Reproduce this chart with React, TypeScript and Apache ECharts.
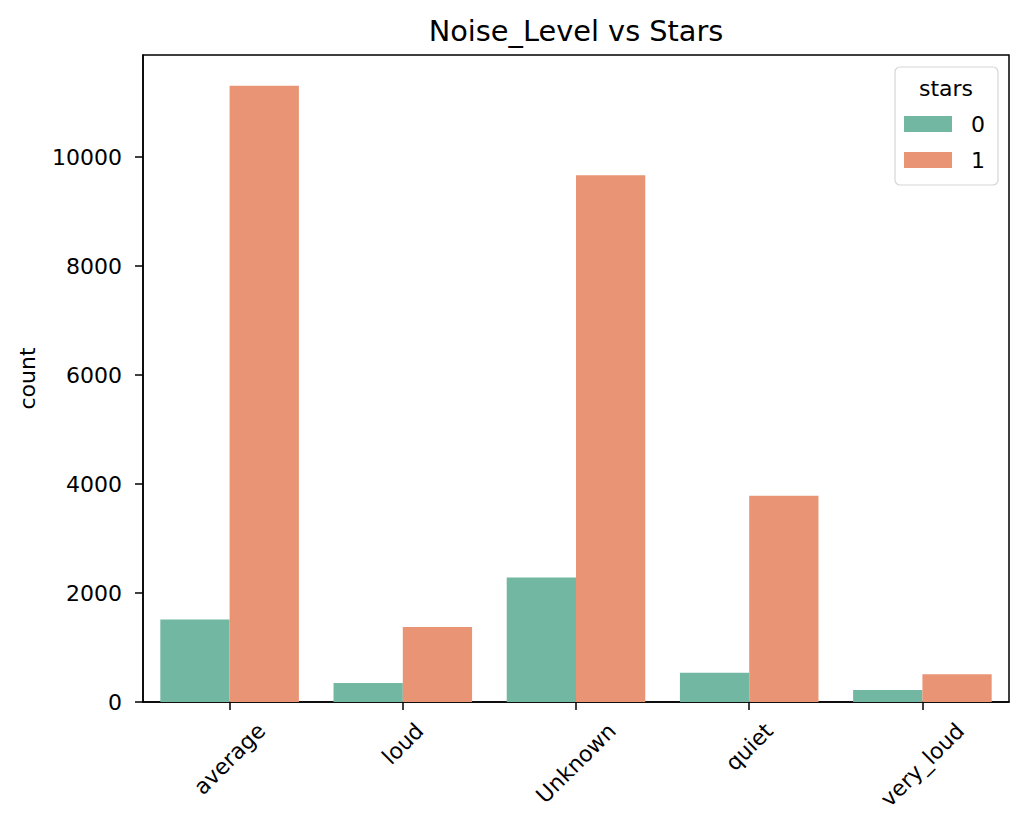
import React, { useEffect, useRef } from "react";
import * as echarts from "echarts";

const categories = ["average", "loud", "Unknown", "quiet", "very_loud"];
const stars0 = [1512, 349, 2283, 539, 220];
const stars1 = [11310, 1376, 9670, 3787, 508];
const yTicks = [0, 2000, 4000, 6000, 8000, 10000];
const seriesNames = ["0", "1"];

const FONT = "DejaVu Sans";
const LABEL_SIZE = 22;
const LABEL_LINE = 26;

function measure(text: string, size: number): number {
  const c = document.createElement("canvas").getContext("2d");
  if (!c) return text.length * size * 0.6;
  c.font = `${size}px "${FONT}"`;
  return c.measureText(text).width;
}

export default function App() {
  const ref = useRef<HTMLDivElement>(null);
  useEffect(() => {
    if (!ref.current) return;
    const chart = echarts.init(ref.current, null, { renderer: "svg" });
    const xData = categories.map((c) => {
      const w = measure(c, LABEL_SIZE);
      return {
        value: c,
        textStyle: {
          align: "center",
          verticalAlign: "top",
          lineHeight: LABEL_LINE,
          padding: [0.25 * w - LABEL_LINE / 2, 0.5 * w, 0, 0],
        },
      };
    });
    const yMax = Math.max(...stars0, ...stars1) * 1.05;
    chart.setOption({
      animation: false,
      backgroundColor: "#ffffff",
      textStyle: { fontFamily: FONT },
      grid: {
        left: 143,
        right: 15,
        top: 55,
        bottom: 120,
        containLabel: false,
        outerBoundsMode: "none",
        show: true,
        borderColor: "#000",
        borderWidth: 1.5,
        backgroundColor: "transparent",
      },
      graphic: [
        {
          type: "text",
          x: 576,
          y: 31,
          style: {
            text: "Noise_Level vs Stars",
            fontFamily: FONT,
            fontSize: 28.8,
            fill: "#000",
            textAlign: "center",
            textVerticalAlign: "middle",
          },
        },
        {
          type: "text",
          x: 946,
          y: 88,
          z: 100,
          style: {
            text: "stars",
            fontFamily: FONT,
            fontSize: LABEL_SIZE,
            fill: "#000",
            textAlign: "center",
            textVerticalAlign: "middle",
          },
        },
      ],
      legend: {
        orient: "vertical",
        left: 895,
        top: 67,
        data: seriesNames,
        itemWidth: 48,
        itemHeight: 16,
        itemGap: 14,
        padding: [46, 13, 14, 9],
        borderColor: "#d6d6d6",
        borderWidth: 1.2,
        borderRadius: 5,
        backgroundColor: "rgba(255,255,255,0.8)",
        icon: "rect",
        textStyle: {
          fontFamily: FONT,
          fontSize: LABEL_SIZE,
          color: "#000",
          lineHeight: 22,
          padding: [0, 0, 0, 14],
        },
      },
      xAxis: {
        type: "category",
        data: xData,
        axisLine: { show: true, lineStyle: { color: "#000", width: 1.5 } },
        axisTick: { show: true, alignWithLabel: true, length: 8, lineStyle: { color: "#000", width: 1.5 } },
        axisLabel: {
          interval: 0,
          rotate: 45,
          align: "center",
          verticalAlign: "middle",
          margin: 25,
          fontFamily: FONT,
          fontSize: LABEL_SIZE,
          color: "#000",
        },
        splitLine: { show: false },
      },
      yAxis: {
        type: "value",
        min: 0,
        max: yMax,
        interval: 2000,
        name: "count",
        nameLocation: "middle",
        nameGap: 105,
        nameTextStyle: { fontFamily: FONT, fontSize: LABEL_SIZE, color: "#000" },
        axisLine: { show: true, lineStyle: { color: "#000", width: 1.5 } },
        axisTick: { show: true, length: 8, customValues: yTicks, lineStyle: { color: "#000", width: 1.5 } },
        axisLabel: {
          customValues: yTicks,
          margin: 21,
          fontFamily: FONT,
          fontSize: LABEL_SIZE,
          color: "#000",
          formatter: (v: number) => String(v),
        },
        splitLine: { show: false },
      },
      series: [
        {
          name: seriesNames[0],
          type: "bar",
          data: stars0,
          barGap: "0%",
          barCategoryGap: "20%",
          itemStyle: { color: "#72b7a1" },
        },
        {
          name: seriesNames[1],
          type: "bar",
          data: stars1,
          barGap: "0%",
          barCategoryGap: "20%",
          itemStyle: { color: "#e99575" },
        },
      ],
    });
    return () => chart.dispose();
  }, []);
  return (
    <div
      ref={ref}
      style={{ position: "fixed", left: 0, top: 0, width: 1024, height: 822, background: "#fff" }}
    />
  );
}
